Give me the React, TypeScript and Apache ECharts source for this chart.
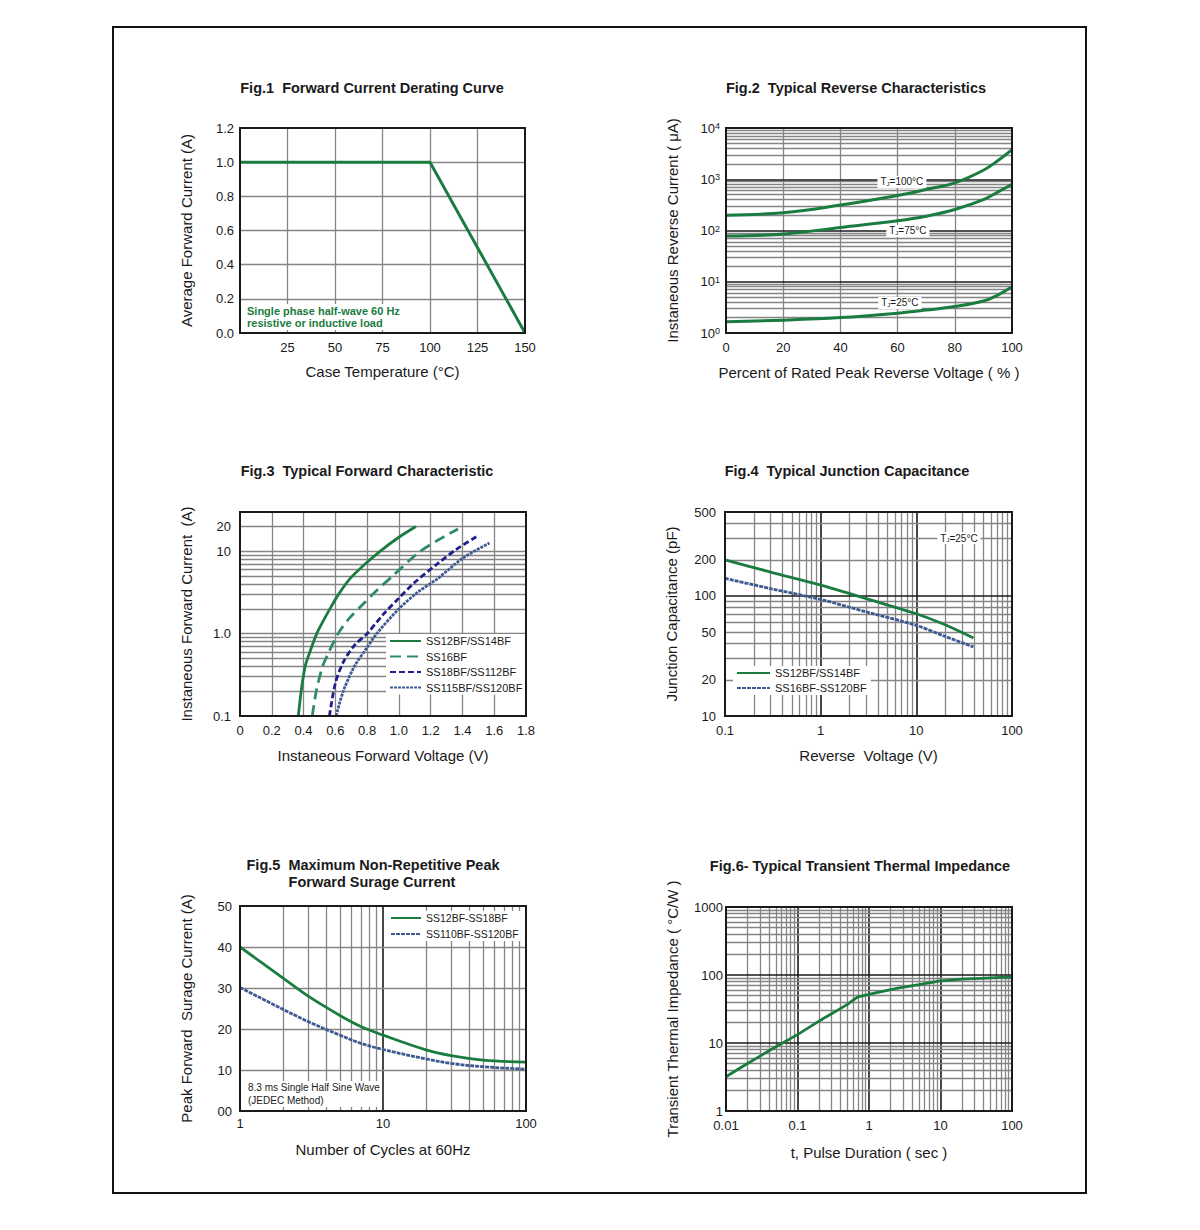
import React, { useEffect, useRef } from 'react';
import * as echarts from 'echarts';

const FONT = '"Liberation Sans", Arial, Helvetica, sans-serif';
const GREEN = '#1b7c40';
const TEAL = '#2e8c6c';
const NAVY = '#20208c';
const SLATE = '#3e5a90';
const GRAY = '#858585';
const DARK = '#1a1a1a';
const TEXT = '#1a1a1a';

// ---------- Fig.1 ----------
const fig1Temp = [0, 100, 150];
const fig1Current = [1.0, 1.0, 0.0];
const fig1XLabels = [25, 50, 75, 100, 125, 150];
const fig1YLabels = [0, 0.2, 0.4, 0.6, 0.8, 1.0, 1.2];
const fig1XGrid = [25, 50, 75, 100, 125];
const fig1YGrid = [0.2, 0.4, 0.6, 0.8, 1.0];

// ---------- Fig.2 ----------
const fig2Pct100 = [0, 20, 40, 60, 70, 80, 90, 95, 100];
const fig2T100 = [198, 223, 314, 483, 631, 850, 1500, 2300, 3800];
const fig2Pct75 = [0, 20, 40, 60, 70, 80, 90, 95, 100];
const fig2T75 = [78.5, 85, 115, 155, 190, 257, 400, 560, 800];
const fig2Pct25 = [0, 20, 40, 60, 70, 80, 90, 95, 100];
const fig2T25 = [1.66, 1.78, 2.0, 2.44, 2.8, 3.28, 4.2, 5.5, 8.0];
const fig2XLabels = [0, 20, 40, 60, 80, 100];
const fig2YLabels = [1, 10, 100, 1000, 10000];
const fig2XGrid = [20, 40, 60, 80];
const fig2YMajor = [10, 100, 1000];

// ---------- Fig.3 ----------
const fig3V12 = [0.367, 0.385, 0.41, 0.44, 0.483, 0.53, 0.566, 0.62, 0.69, 0.78, 0.881, 1.0, 1.107];
const fig3I12 = [0.1, 0.2, 0.4, 0.6, 1.0, 1.5, 2.0, 3.0, 4.6, 6.8, 10, 14.8, 20];
const fig3V16 = [0.455, 0.48, 0.52, 0.56, 0.617, 0.69, 0.766, 0.85, 0.955, 1.12, 1.25, 1.372];
const fig3I16 = [0.1, 0.2, 0.4, 0.6, 1.0, 1.55, 2.2, 3.2, 4.9, 9.5, 13.8, 18.6];
const fig3V18 = [0.563, 0.6, 0.65, 0.72, 0.8, 0.9, 1.0, 1.1, 1.24, 1.36, 1.487];
const fig3I18 = [0.1, 0.25, 0.45, 0.72, 1.0, 1.7, 2.7, 4.2, 7.0, 10.5, 15];
const fig3V115 = [0.605, 0.65, 0.72, 0.8, 0.86, 1.0, 1.12, 1.24, 1.4, 1.57];
const fig3I115 = [0.1, 0.2, 0.4, 0.68, 1.0, 2.0, 3.2, 4.6, 8.2, 12.6];
const fig3Names = ['SS12BF/SS14BF', 'SS16BF', 'SS18BF/SS112BF', 'SS115BF/SS120BF'];
const fig3XLabels = [0, 0.2, 0.4, 0.6, 0.8, 1.0, 1.2, 1.4, 1.6, 1.8];
const fig3YLabels = [0.1, 1, 10, 20];
const fig3XGrid = [0.2, 0.4, 0.6, 0.8, 1.0, 1.2, 1.4, 1.6];

// ---------- Fig.4 ----------
const fig4V = [0.1, 0.3, 1, 3, 10, 20, 39.5];
const fig4C12 = [200, 158, 123, 95, 71, 57.5, 44.6];
const fig4C16 = [140, 115, 93.4, 73.6, 56.8, 46, 37.6];
const fig4Names = ['SS12BF/SS14BF', 'SS16BF-SS120BF'];
const fig4XLabels = [0.1, 1, 10, 100];
const fig4YLabels = [10, 20, 50, 100, 200, 500];

// ---------- Fig.5 ----------
const fig5Cycles = [1, 2, 3, 5, 7, 10, 20, 30, 50, 100];
const fig5A = [40, 32.4, 28, 23.3, 20.6, 18.5, 14.9, 13.5, 12.4, 11.9];
const fig5B = [30.1, 24.8, 21.8, 18.5, 16.5, 15, 12.7, 11.6, 10.8, 10.2];
const fig5Names = ['SS12BF-SS18BF', 'SS110BF-SS120BF'];
const fig5XLabels = [1, 10, 100];
const fig5YLabels = [0, 10, 20, 30, 40, 50];
const fig5YGrid = [10, 20, 30, 40];

// ---------- Fig.6 ----------
const fig6T = [0.01, 0.02, 0.05, 0.1, 0.2, 0.5, 0.7, 1, 2, 5, 10, 20, 50, 100];
const fig6Z = [3.19, 5.0, 8.8, 13.3, 21, 37, 47.5, 52, 61, 72, 81.7, 87, 91, 93];
const fig6XLabels = [0.01, 0.1, 1, 10, 100];
const fig6YLabels = [1, 10, 100, 1000];

function logMinor(minExp: number, maxExp: number, upTo?: number) {
  const out: number[] = [];
  for (let e = minExp; e < maxExp; e++) {
    for (let m = 2; m <= 9; m++) {
      const v = +(m * Math.pow(10, e)).toPrecision(3);
      if (upTo == null || v <= upTo) out.push(v);
    }
  }
  return out;
}

function zip(xs: number[], ys: number[]) {
  return xs.map((x, i) => [x, ys[i]]);
}

const GRIDS = [
  { left: 240, top: 128, width: 285, height: 205 },
  { left: 726, top: 128, width: 286, height: 205 },
  { left: 240, top: 512, width: 286, height: 204 },
  { left: 725, top: 512, width: 287, height: 204 },
  { left: 240, top: 906, width: 286, height: 205 },
  { left: 726, top: 907, width: 286, height: 204 },
];

function axis(gridIndex: number, cfg: any) {
  return {
    gridIndex,
    type: cfg.type,
    min: cfg.min,
    max: cfg.max,
    logBase: 10,
    name: cfg.name,
    nameLocation: 'middle',
    nameGap: cfg.nameGap,
    nameTextStyle: { fontSize: 15, color: TEXT, fontFamily: FONT },
    axisLine: { show: false },
    axisTick: { show: false },
    splitLine: { show: false },
    axisLabel: {
      customValues: cfg.labels,
      formatter: cfg.formatter,
      fontSize: 13,
      color: TEXT,
      fontFamily: FONT,
      margin: cfg.margin ?? 8,
      rich: cfg.rich,
    },
  };
}

function gridLines(idx: number, xs: { v: number[]; dark?: boolean }[], ys: { v: number[]; dark?: boolean }[]) {
  const data: any[] = [];
  xs.forEach((g) =>
    g.v.forEach((v) =>
      data.push({ xAxis: v, lineStyle: { color: g.dark ? DARK : GRAY, width: g.dark ? 1.6 : 1.3, type: 'solid' } })
    )
  );
  ys.forEach((g) =>
    g.v.forEach((v) =>
      data.push({ yAxis: v, lineStyle: { color: g.dark ? DARK : GRAY, width: g.dark ? 1.6 : 1.3, type: 'solid' } })
    )
  );
  return {
    type: 'line',
    xAxisIndex: idx,
    yAxisIndex: idx,
    data: [],
    silent: true,
    markLine: {
      silent: true,
      z: 1,
      symbol: ['none', 'none'],
      label: { show: false },
      emphasis: { disabled: true },
      animation: false,
      data,
    },
  };
}

function curve(idx: number, name: string, pts: number[][], color: string, type: any = 'solid', smooth: any = 0.3, width = 2.6) {
  return {
    type: 'line',
    name,
    xAxisIndex: idx,
    yAxisIndex: idx,
    data: pts,
    smooth,
    symbol: 'none',
    showSymbol: false,
    z: 3,
    itemStyle: { color },
    lineStyle: { color, width, type },
  };
}

function tjLabel(coord: number[], temp: string) {
  return {
    symbol: 'circle',
    symbolSize: 1,
    itemStyle: { color: 'rgba(0,0,0,0)' },
    z: 6,
    data: [{ coord }],
    label: {
      show: true,
      position: 'inside',
      formatter: `{a|T}{b|J}{a|=${temp}}`,
      backgroundColor: '#fff',
      padding: [1, 3, 1, 3],
      color: TEXT,
      rich: {
        a: { fontSize: 10, fontFamily: FONT, color: TEXT },
        b: { fontSize: 6, fontFamily: FONT, color: TEXT, verticalAlign: 'bottom', padding: [4, 0, 0, 0] },
      },
    },
  };
}

const supMap: Record<number, string> = { 1: '0', 10: '1', 100: '2', 1000: '3', 10000: '4' };
const fmtNum = (v: number) => String(v);

function buildOption(): any {
  const legendText = { fontSize: 11, lineHeight: 12, color: TEXT, fontFamily: FONT };
  const legendCommon = {
    orient: 'vertical',
    itemHeight: 10,
    backgroundColor: '#fff',
    textStyle: legendText,
    selectedMode: false,
    itemStyle: { opacity: 0 },
    z: 8,
  };

  return {
    animation: false,
    backgroundColor: '#fff',
    textStyle: { fontFamily: FONT },
    grid: GRIDS.map((g) => ({ ...g, show: true, borderColor: DARK, borderWidth: 2, backgroundColor: 'transparent', z: 10 })),
    xAxis: [
      axis(0, {
        type: 'value', min: 0, max: 150, labels: fig1XLabels, formatter: fmtNum,
        name: 'Case Temperature (°C)', nameGap: 31,
      }),
      axis(1, {
        type: 'value', min: 0, max: 100, labels: fig2XLabels, formatter: fmtNum,
        name: 'Percent of Rated Peak Reverse Voltage ( % )', nameGap: 32,
      }),
      axis(2, {
        type: 'value', min: 0, max: 1.8, labels: fig3XLabels,
        formatter: (v: number) => (v === 0 ? '0' : v.toFixed(1)),
        name: 'Instaneous Forward Voltage (V)', nameGap: 32,
      }),
      axis(3, {
        type: 'log', min: 0.1, max: 100, labels: fig4XLabels, formatter: fmtNum,
        name: 'Reverse  Voltage (V)', nameGap: 32,
      }),
      axis(4, {
        type: 'log', min: 1, max: 100, labels: fig5XLabels, formatter: fmtNum,
        name: 'Number of Cycles at 60Hz', nameGap: 31, margin: 6,
      }),
      axis(5, {
        type: 'log', min: 0.01, max: 100, labels: fig6XLabels, formatter: fmtNum,
        name: 't, Pulse Duration ( sec )', nameGap: 34, margin: 8,
      }),
    ],
    yAxis: [
      axis(0, {
        type: 'value', min: 0, max: 1.2, labels: fig1YLabels,
        formatter: (v: number) => v.toFixed(1),
        name: 'Average Forward Current (A)', nameGap: 46, margin: 6,
      }),
      axis(1, {
        type: 'log', min: 1, max: 10000, labels: fig2YLabels,
        formatter: (v: number) => `{b|10}{s|${supMap[Math.round(v)] ?? ''}}`,
        rich: {
          b: { fontSize: 13, fontFamily: FONT, color: TEXT },
          s: { fontSize: 9, fontFamily: FONT, color: TEXT, verticalAlign: 'top' },
        },
        name: 'Instaneous Reverse Current ( μA)', nameGap: 46, margin: 6,
      }),
      axis(2, {
        type: 'log', min: 0.1, max: 30, labels: fig3YLabels,
        formatter: (v: number) => (v === 1 ? '1.0' : String(v)),
        name: 'Instaneous Forward Current  (A)', nameGap: 46, margin: 9,
      }),
      axis(3, {
        type: 'log', min: 10, max: 500, labels: fig4YLabels, formatter: fmtNum,
        name: 'Junction Capacitance (pF)', nameGap: 46, margin: 9,
      }),
      axis(4, {
        type: 'value', min: 0, max: 50, labels: fig5YLabels,
        formatter: (v: number) => (v === 0 ? '00' : String(v)),
        name: 'Peak Forward  Surage Current (A)', nameGap: 46, margin: 8,
      }),
      axis(5, {
        type: 'log', min: 1, max: 1000, labels: fig6YLabels, formatter: fmtNum,
        name: 'Transient Thermal Impedance ( °C/W )', nameGap: 46, margin: 3,
      }),
    ],
    legend: [
      { ...legendCommon, data: fig3Names, left: 386, top: 634, itemWidth: 31, itemGap: 3.5, padding: [1, 4, 1, 3] },
      { ...legendCommon, data: fig4Names, left: 733, top: 666, itemWidth: 33, itemGap: 3, padding: [1, 4, 1, 3] },
      {
        ...legendCommon, data: fig5Names, left: 388, top: 911, itemWidth: 30, itemGap: 4, padding: [1, 2, 1, 2],
        textStyle: { ...legendText, fontSize: 10.5 },
      },
    ],
    series: [
      // grid lines
      gridLines(0, [{ v: fig1XGrid }], [{ v: fig1YGrid }]),
      gridLines(1, [{ v: fig2XGrid }], [{ v: logMinor(0, 4) }, { v: fig2YMajor, dark: true }]),
      gridLines(2, [{ v: fig3XGrid }], [{ v: logMinor(-1, 2, 20) }, { v: [1, 10] }]),
      gridLines(3, [{ v: logMinor(-1, 2) }, { v: [1, 10], dark: true }], [{ v: logMinor(1, 3, 400) }, { v: [100], dark: true }]),
      gridLines(4, [{ v: logMinor(0, 2) }, { v: [10], dark: true }], [{ v: fig5YGrid }]),
      gridLines(5, [{ v: logMinor(-2, 2) }, { v: [0.1, 1, 10], dark: true }], [{ v: logMinor(0, 3) }, { v: [10, 100], dark: true }]),

      // Fig.1
      curve(0, 'derating', zip(fig1Temp, fig1Current), GREEN, 'solid', false, 3),
      // Fig.2
      { ...curve(1, 'TJ100', zip(fig2Pct100, fig2T100), GREEN, 'solid', 0.4, 3), markPoint: tjLabel([61.5, 884], '100°C') },
      { ...curve(1, 'TJ75', zip(fig2Pct75, fig2T75), GREEN, 'solid', 0.4, 3), markPoint: tjLabel([63.6, 98], '75°C') },
      { ...curve(1, 'TJ25', zip(fig2Pct25, fig2T25), GREEN, 'solid', 0.4, 3), markPoint: tjLabel([60.8, 3.85], '25°C') },
      // Fig.3
      curve(2, fig3Names[0], zip(fig3V12, fig3I12), GREEN, 'solid', 0.3, 2.8),
      curve(2, fig3Names[1], zip(fig3V16, fig3I16), TEAL, [11, 6], 0.3, 2.8),
      curve(2, fig3Names[2], zip(fig3V18, fig3I18), NAVY, [6, 3], 0.3, 2.8),
      curve(2, fig3Names[3], zip(fig3V115, fig3I115), SLATE, [3, 1], 0.3, 2.8),
      // Fig.4
      { ...curve(3, fig4Names[0], zip(fig4V, fig4C12), GREEN, 'solid', 0.3, 2.8), markPoint: tjLabel([27.9, 303], '25°C') },
      curve(3, fig4Names[1], zip(fig4V, fig4C16), SLATE, [4, 1], 0.3, 2.8),
      // Fig.5
      curve(4, fig5Names[0], zip(fig5Cycles, fig5A), GREEN, 'solid', 0.35, 2.8),
      curve(4, fig5Names[1], zip(fig5Cycles, fig5B), SLATE, [4, 1], 0.35, 2.8),
      // Fig.6
      curve(5, 'zth', zip(fig6T, fig6Z), GREEN, 'solid', 0.2, 2.8),
    ],
    graphic: [
      {
        type: 'rect', z: 100, silent: true,
        shape: { x: 113, y: 27, width: 973, height: 1166 },
        style: { fill: 'none', stroke: '#111', lineWidth: 2 },
      },
      ...[
        { t: 'Fig.1  Forward Current Derating Curve', x: 372, y: 88 },
        { t: 'Fig.2  Typical Reverse Characteristics', x: 856, y: 88 },
        { t: 'Fig.3  Typical Forward Characteristic', x: 367, y: 471 },
        { t: 'Fig.4  Typical Junction Capacitance', x: 847, y: 471 },
        { t: 'Fig.5  Maximum Non-Repetitive Peak', x: 373, y: 865 },
        { t: 'Forward Surage Current', x: 372, y: 882 },
        { t: 'Fig.6- Typical Transient Thermal Impedance', x: 860, y: 866 },
      ].map((o) => ({
        type: 'text', z: 100, silent: true, x: o.x, y: o.y,
        style: {
          text: o.t, textAlign: 'center', textVerticalAlign: 'middle',
          font: `bold 14.5px ${FONT}`, fill: TEXT,
        },
      })),
      {
        type: 'text', z: 100, silent: true, x: 247, y: 317,
        style: {
          text: 'Single phase half-wave 60 Hz\nresistive or inductive load',
          textAlign: 'left', textVerticalAlign: 'middle', lineHeight: 12,
          font: `bold 11px ${FONT}`, fill: GREEN, backgroundColor: '#fff', padding: [2, 2, 0, 0],
        },
      },
      {
        type: 'text', z: 100, silent: true, x: 248, y: 1094,
        style: {
          text: '8.3 ms Single Half Sine Wave\n(JEDEC Method)',
          textAlign: 'left', textVerticalAlign: 'middle', lineHeight: 13,
          font: `10px ${FONT}`, fill: TEXT, backgroundColor: '#fff',
        },
      },
    ],
  };
}

export default function App() {
  const ref = useRef<HTMLDivElement>(null);
  useEffect(() => {
    if (!ref.current) return;
    const chart = echarts.init(ref.current, null, { renderer: 'svg' });
    chart.setOption(buildOption());
    return () => chart.dispose();
  }, []);
  return (
    <div
      ref={ref}
      style={{ position: 'absolute', left: 0, top: 0, width: 1200, height: 1230, background: '#fff' }}
    />
  );
}
